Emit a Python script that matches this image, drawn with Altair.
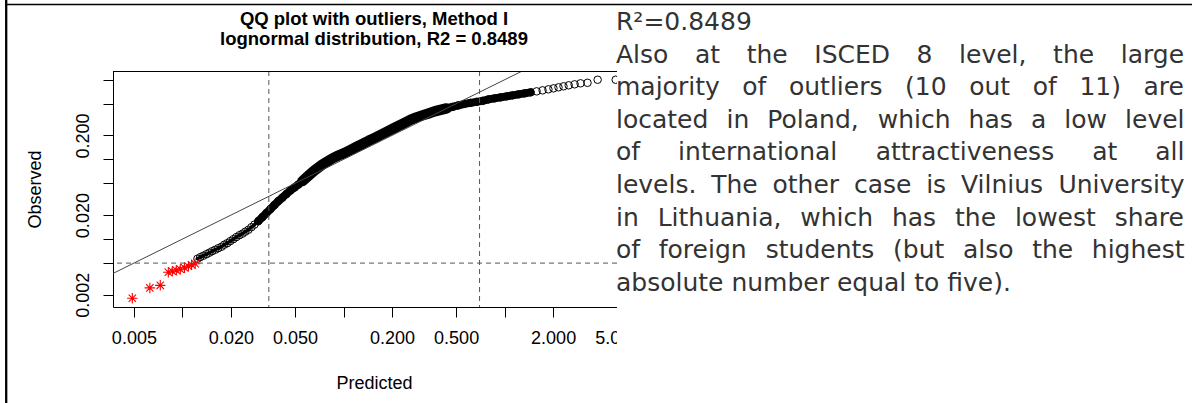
import altair as alt
import pandas as pd
import math

# Quantile pairs of the lognormal fit (share of foreign students, ISCED 8)
predicted = [
    0.0124, 0.0129, 0.0135, 0.0141, 0.0147, 0.0153, 0.0160, 0.0167, 0.0175, 0.0182,
    0.0190, 0.0198, 0.0207, 0.0216, 0.0226, 0.0236, 0.0246, 0.0257, 0.0268, 0.0280,
    0.0296, 0.0314, 0.0332, 0.0352, 0.0372, 0.0394, 0.0418, 0.0442, 0.0468, 0.0496,
    0.0525, 0.0556, 0.0589, 0.0623, 0.0660, 0.0699, 0.0740, 0.0795, 0.0854, 0.0930,
    0.101, 0.110, 0.120, 0.131, 0.143, 0.156, 0.170, 0.185, 0.201, 0.219,
    0.239, 0.260, 0.284, 0.309, 0.337, 0.367, 0.400, 0.436, 0.475, 0.517,
    0.564, 0.614, 0.669, 0.729, 0.795, 0.866, 0.944, 1.03, 1.12, 1.22,
    1.33, 1.45, 1.58, 1.72, 1.87, 2.01, 2.16, 2.32, 2.50, 2.72,
    2.96, 3.27, 3.78, 4.89,
]
observed = [
    0.00567, 0.00593, 0.00619, 0.00646, 0.00675, 0.00705, 0.00736, 0.00769, 0.00803, 0.00851,
    0.00889, 0.00942, 0.00998, 0.0106, 0.0112, 0.0117, 0.0124, 0.0131, 0.0141, 0.0152,
    0.0168, 0.0189, 0.0212, 0.0238, 0.0267, 0.0300, 0.0332, 0.0367, 0.0407, 0.0444,
    0.0484, 0.0535, 0.0593, 0.0656, 0.0726, 0.0792, 0.0863, 0.0942, 0.103, 0.112,
    0.120, 0.131, 0.143, 0.156, 0.171, 0.186, 0.203, 0.221, 0.241, 0.263,
    0.287, 0.313, 0.337, 0.357, 0.378, 0.401, 0.419, 0.437, 0.457, 0.477,
    0.498, 0.513, 0.528, 0.543, 0.567, 0.584, 0.601, 0.619, 0.637, 0.656,
    0.675, 0.695, 0.715, 0.736, 0.758, 0.780, 0.803, 0.827, 0.851, 0.876,
    0.902, 0.915, 1.0, 1.0,
]

# The 11 flagged outliers
outlier_predicted = [0.00489, 0.00628, 0.00729, 0.00818, 0.00866, 0.00917,
                     0.00971, 0.0103, 0.0109, 0.0114, 0.0120]
outlier_observed = [0.00181, 0.00244, 0.00263, 0.00384, 0.00395, 0.00407,
                    0.00419, 0.00437, 0.00457, 0.00477, 0.00491]

# Dashed cut-offs
cut_predicted = [0.0344, 0.699]
cut_observed = [0.005]

# Reference line observed = predicted
diag = [0.001, 10.0]

x_ticks = [0.005, 0.01, 0.02, 0.05, 0.1, 0.2, 0.5, 1, 2, 5]
x_labelled = [0.005, 0.02, 0.05, 0.2, 0.5, 2, 5]
y_ticks = [0.002, 0.005, 0.01, 0.02, 0.05, 0.1, 0.2, 0.5, 1]
y_labelled = [0.002, 0.02, 0.2]

title_lines = ["QQ plot with outliers, Method I",
               "lognormal distribution, R2 = 0.8489"]

# Paragraph lines: (text, justified)
paragraph = [
    ("R\u00b2=0.8489", False),
    ("Also at the ISCED 8 level, the large", True),
    ("majority of outliers (10 out of 11) are", True),
    ("located in Poland, which has a low level", True),
    ("of international attractiveness at all", True),
    ("levels. The other case is Vilnius University", True),
    ("in Lithuania, which has the lowest share", True),
    ("of foreign students (but also the highest", True),
    ("absolute number equal to five).", False),
]

# ---- layout ------------------------------------------------------------
W, H = 522, 236
PAD_L, PAD_T = 113, 71
CANVAS_W, CANVAS_H = 1192, 403


def padded(lo, hi):
    a, b = math.log10(lo), math.log10(hi)
    e = 0.04 * (b - a)
    return [10 ** (a - e), 10 ** (b + e)]


all_x = predicted + outlier_predicted
all_y = observed + outlier_observed
x_dom = padded(min(all_x), max(all_x))
y_dom = padded(min(all_y), max(all_y))

FONT = "Liberation Sans"
INK = "#000000"

x_axis = alt.Axis(
    values=x_ticks,
    labelExpr="indexof(%s, datum.value) >= 0 ? format(datum.value, '.3f') : ''" % x_labelled,
    labelOverlap=False, labelFlush=False, grid=False,
    tickSize=10, tickColor=INK, domainColor=INK, tickWidth=1, domainWidth=1,
    labelFont=FONT, labelFontSize=18, labelColor=INK,
    labelBaseline="alphabetic", labelPadding=26,
    title="Predicted", titleFont=FONT, titleFontSize=18, titleFontWeight="normal",
    titleColor=INK, titleY=81, titleBaseline="alphabetic",
)
y_axis = alt.Axis(
    values=y_ticks,
    labelExpr="indexof(%s, datum.value) >= 0 ? format(datum.value, '.3f') : ''" % y_labelled,
    labelOverlap=False, labelFlush=False, grid=False,
    tickSize=10, tickColor=INK, domainColor=INK, tickWidth=1, domainWidth=1,
    labelFont=FONT, labelFontSize=18, labelColor=INK,
    labelAngle=270, labelAlign="center", labelBaseline="alphabetic", labelPadding=15,
    title="Observed", titleFont=FONT, titleFontSize=18, titleFontWeight="normal",
    titleColor=INK, titleAngle=270, titleAlign="center", titleBaseline="alphabetic",
    titleX=-73, titleY=H / 2,
)

X = alt.X("predicted:Q", scale=alt.Scale(type="log", domain=x_dom, nice=False), axis=x_axis)
Y = alt.Y("observed:Q", scale=alt.Scale(type="log", domain=y_dom, nice=False), axis=y_axis)

pts = pd.DataFrame({"predicted": predicted, "observed": observed})
out = pd.DataFrame({"predicted": outlier_predicted, "observed": outlier_observed})
diag_df = pd.DataFrame({"predicted": diag, "observed": diag})
vcut = pd.DataFrame({"predicted": cut_predicted})
hcut = pd.DataFrame({"observed": cut_observed})
one = pd.DataFrame({"k": [0]})

base = alt.Chart(pts)


def band(lo, hi, width):
    # where the circles crowd together they merge into a solid band
    return base.transform_filter(
        (alt.datum.predicted >= lo) & (alt.datum.predicted <= hi)
    ).mark_line(color="black", strokeWidth=width, strokeCap="round",
                strokeJoin="round").encode(x=X, y=Y)


band_low = band(0.0124, 0.0296, 3.5)
band_mid = band(0.0296, 1.45, 8)
band_core = band(0.0556, 0.436, 10.5)

circles = base.mark_point(
    shape="circle", filled=False, color="black", size=56, strokeWidth=1, opacity=1
).encode(x=X, y=Y)

asterisk = "M-1,0L1,0M0,-1L0,1M-0.7,-0.7L0.7,0.7M-0.7,0.7L0.7,-0.7"
stars = alt.Chart(out).mark_point(
    shape=asterisk, filled=False, color="#ff0000", size=110, strokeWidth=1.1, opacity=1
).encode(x=X, y=Y)

ref_line = alt.Chart(diag_df).mark_line(
    color="#444444", strokeWidth=1, clip=True
).encode(x=X, y=Y)

vrules = alt.Chart(vcut).mark_rule(
    color="#555555", strokeWidth=1, strokeDash=[5, 4]
).encode(x=X)
hrules = alt.Chart(hcut).mark_rule(
    color="#555555", strokeWidth=1, strokeDash=[5, 4]
).encode(y=Y)

frame_top = alt.Chart(one).mark_rule(color=INK, strokeWidth=1).encode(
    x=alt.value(0), x2=alt.value(W), y=alt.value(0.5)
)

# the figure is cut off where the text column begins
crop = 617 - PAD_L
cover = alt.Chart(one).mark_rect(color="white").encode(
    x=alt.value(crop), x2=alt.value(CANVAS_W - PAD_L),
    y=alt.value(-PAD_T), y2=alt.value(CANVAS_H - PAD_T)
)

# table borders of the page
border_left = alt.Chart(one).mark_rule(color="black", strokeWidth=2.3).encode(
    x=alt.value(6.2 - PAD_L), y=alt.value(-PAD_T), y2=alt.value(CANVAS_H - PAD_T)
)
border_top = alt.Chart(one).mark_rule(color="black", strokeWidth=1.5).encode(
    x=alt.value(5 - PAD_L), x2=alt.value(CANVAS_W - PAD_L), y=alt.value(4.5 - PAD_T)
)

title_df = pd.DataFrame({"t": title_lines, "py": [25 - PAD_T, 44.5 - PAD_T]})
title = alt.Chart(title_df).mark_text(
    font=FONT, fontSize=18.5, fontWeight="bold", align="center",
    baseline="alphabetic", color=INK
).encode(
    x=alt.value(W / 2),
    y=alt.Y("py:Q", scale=None, axis=None),
    text="t:N",
)

# ---- justified paragraph ----------------------------------------------
FS = 25
TXT_L, TXT_R = 616 - PAD_L, 1184.5 - PAD_L
BASE0, STEP = 30 - PAD_T, 32.6
ADV = {" ": 651, "(": 799, ")": 799, ",": 651, ".": 651, "=": 1716, "\u00b2": 821,
       "A": 1401, "C": 1430, "D": 1577, "E": 1294, "I": 604, "L": 1141, "P": 1235,
       "R": 1423, "S": 1300, "T": 1251, "U": 1499, "V": 1401,
       "a": 1255, "b": 1300, "c": 1126, "d": 1300, "e": 1260, "f": 721, "g": 1300,
       "h": 1298, "i": 569, "j": 569, "k": 1186, "l": 569, "m": 1995, "n": 1298,
       "o": 1253, "p": 1300, "q": 1300, "r": 842, "s": 1067, "t": 803, "u": 1298,
       "v": 1212, "w": 1675, "x": 1212, "y": 1212, "z": 1075}


def text_width(s):
    return sum(ADV.get(c, 1303) for c in s) * FS / 2048


rows = []
for i, (line, justify) in enumerate(paragraph):
    py = BASE0 + STEP * i
    words = line.split(" ")
    if justify and len(words) > 1:
        widths = [text_width(w) for w in words]
        gap = (TXT_R - TXT_L - sum(widths)) / (len(words) - 1)
        px = TXT_L
        for w, wd in zip(words, widths):
            rows.append({"word": w, "px": px, "py": py})
            px += wd + gap
    else:
        rows.append({"word": line, "px": TXT_L, "py": py})

text_df = pd.DataFrame(rows)
para = alt.Chart(text_df).mark_text(
    font="DejaVu Sans", fontSize=FS, align="left", baseline="alphabetic", color="#333333"
).encode(
    x=alt.X("px:Q", scale=None, axis=None),
    y=alt.Y("py:Q", scale=None, axis=None),
    text="word:N",
)

chart = alt.layer(
    band_low, band_mid, band_core, circles, stars, ref_line, vrules, hrules, frame_top,
    cover, border_left, border_top, title, para
).properties(
    width=W, height=H,
    autosize=alt.AutoSizeParams(type="none"),
    padding={"left": PAD_L, "top": PAD_T, "right": CANVAS_W - PAD_L - W,
             "bottom": CANVAS_H - PAD_T - H},
    background="white",
).configure_view(stroke=None)

chart.save("out.html", embed_options={"renderer": "svg", "actions": False})
